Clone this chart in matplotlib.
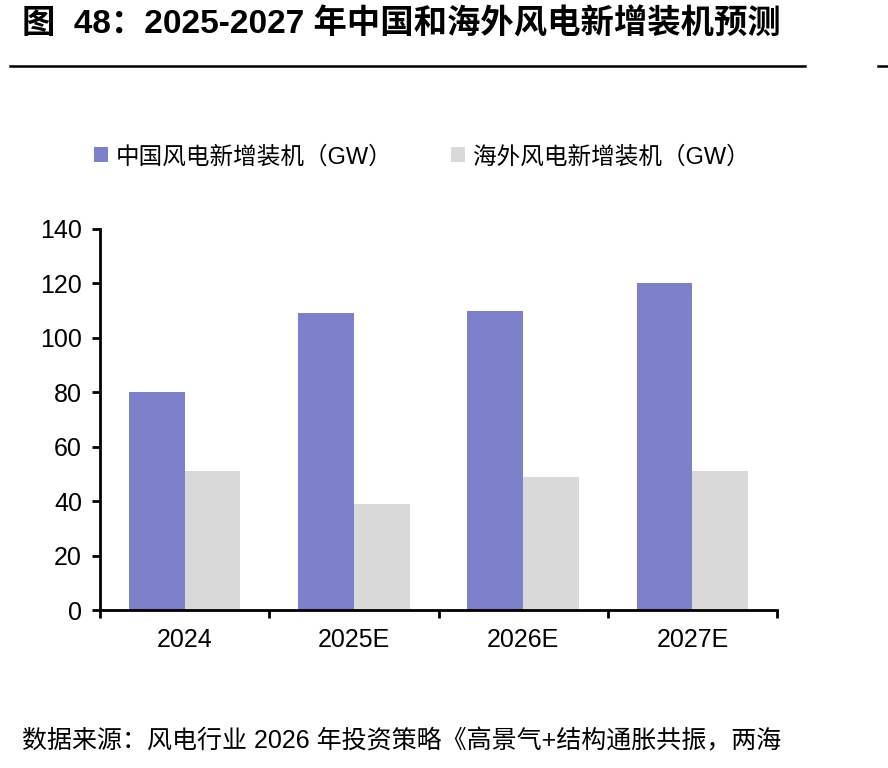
import numpy as np
import matplotlib
matplotlib.use("Agg")
import matplotlib.pyplot as plt
from matplotlib.ticker import FixedLocator

plt.rcParams['font.family'] = ['Liberation Sans', 'Noto Sans CJK SC', 'DejaVu Sans']

years = ["2024", "2025E", "2026E", "2027E"]
china_gw = [80, 109, 110, 120]
overseas_gw = [51, 39, 49, 51]
series_names = ["中国风电新增装机（GW）", "海外风电新增装机（GW）"]

fig = plt.figure(figsize=(8.88, 7.68), dpi=100)
ax = fig.add_axes([100 / 888, (768 - 610) / 768, 677 / 888, 381 / 768])

x = np.arange(len(years))
w = 0.33
ax.bar(x - w / 2, china_gw, w, color="#7C80C8", label=series_names[0])
ax.bar(x + w / 2, overseas_gw, w, color="#D9D9D9", label=series_names[1])

ax.set_xlim(-0.5, len(years) - 0.5)
ax.set_ylim(0, 140)
ax.set_yticks(range(0, 141, 20))
ax.set_xticks(x)
ax.set_xticklabels(years)
ax.xaxis.set_minor_locator(FixedLocator(np.arange(-0.5, len(years), 1.0)))
ax.tick_params(axis="x", which="major", length=0, pad=13, labelsize=18)
ax.tick_params(axis="x", which="minor", length=6, width=2, direction="out")
ax.tick_params(axis="y", length=6, width=2, direction="out", pad=7, labelsize=18)

for s in ["top", "right"]:
    ax.spines[s].set_visible(False)
for s in ["left", "bottom"]:
    ax.spines[s].set_linewidth(2)

fig.legend(loc="center", bbox_to_anchor=(0.475, 1 - 157 / 768), ncol=2, frameon=False,
           fontsize=17, handlelength=0.6, handleheight=0.6, handletextpad=0.3,
           columnspacing=2.5)

fig.text(22 / 888, 1 - 24 / 768, "图  48：2025-2027 年中国和海外风电新增装机预测",
         fontsize=24, fontweight="bold", va="center", ha="left")
fig.add_artist(plt.Line2D([10 / 888, 805 / 888], [1 - 66 / 768, 1 - 66 / 768],
                          color="black", lw=1.8))
fig.add_artist(plt.Line2D([878 / 888, 1.0], [1 - 66 / 768, 1 - 66 / 768],
                          color="black", lw=1.8))

fig.text(22 / 888, 1 - 741 / 768, "数据来源：风电行业 2026 年投资策略《高景气+结构通胀共振，两海",
         fontsize=18, va="center", ha="left")

fig.savefig("out.png", dpi=100)
